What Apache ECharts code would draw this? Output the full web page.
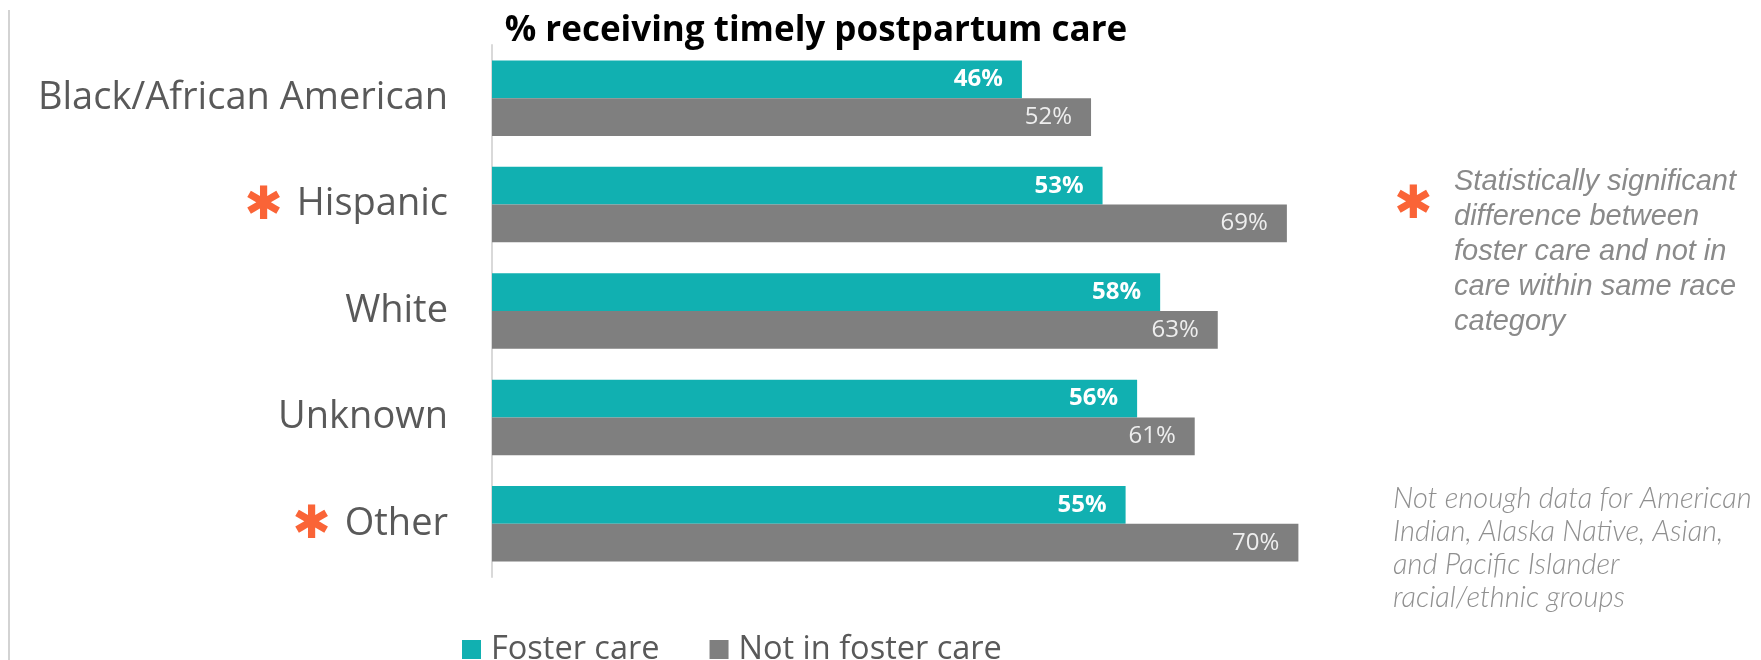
<!DOCTYPE html>
<html>
<head>
<meta charset="utf-8">
<title>% receiving timely postpartum care</title>
<script src="https://cdn.jsdelivr.net/npm/echarts@6/dist/echarts.min.js"></script>
<style>
  html, body { margin: 0; padding: 0; background: #ffffff; }
  #chart { width: 1761px; height: 660px; }
</style>
</head>
<body>
<div id="chart"></div>
<script>
// Race / ethnicity groups, top to bottom
const categories = ['Black/African American', 'Hispanic', 'White', 'Unknown', 'Other'];
// Groups with a statistically significant foster / not-in-care difference
const significantGroups = ['Hispanic', 'Other'];
// Percent receiving timely postpartum care
const fosterCare = [46, 53, 58, 56, 55];
const notInFosterCare = [52, 69, 63, 61, 70];
const seriesNames = ['Foster care', 'Not in foster care'];

const TEAL = '#11b0b1';
const GRAY = '#7f7f7f';
const ORANGE = '#fa6437';
const LABEL_FONT = '"Open Sans", "Noto Sans", sans-serif';

const chart = echarts.init(document.getElementById('chart'), null, { renderer: 'canvas' });

chart.setOption({
  backgroundColor: '#ffffff',
  animation: false,
  title: {
    text: '% receiving timely postpartum care',
    left: 811,
    textAlign: 'center',
    top: 9,
    textStyle: {
      fontFamily: LABEL_FONT,
      fontWeight: 'bold',
      fontSize: 35,
      color: '#000000'
    }
  },
  legend: {
    data: seriesNames,
    left: 457,
    top: 628,
    icon: 'rect',
    itemWidth: 19,
    itemHeight: 19,
    itemGap: 50,
    textStyle: {
      fontFamily: LABEL_FONT,
      fontSize: 32.5,
      color: '#595959',
      padding: [0, 0, 0, 5]
    }
  },
  grid: {
    left: 492,
    top: 45,
    width: 1152,
    height: 532
  },
  xAxis: {
    type: 'value',
    min: 0,
    max: 100,
    show: false
  },
  yAxis: {
    type: 'category',
    data: categories,
    inverse: true,
    axisLine: { show: true, lineStyle: { color: '#d9d9d9', width: 2 } },
    axisTick: { show: false },
    axisLabel: {
      margin: 44,
      fontFamily: LABEL_FONT,
      fontSize: 38,
      color: '#595959',
      formatter: function (value) {
        return significantGroups.indexOf(value) >= 0
          ? '{star|✱}' + value
          : value;
      },
      rich: {
        star: {
          fontFamily: '"DejaVu Sans", sans-serif',
          fontWeight: 'bold',
          fontSize: 46,
          color: ORANGE,
          padding: [4, 14, 0, 0]
        }
      }
    }
  },
  series: [
    {
      name: seriesNames[0],
      type: 'bar',
      data: fosterCare,
      barCategoryGap: '29%',
      barGap: '0%',
      itemStyle: { color: TEAL },
      label: {
        show: true,
        position: 'insideRight',
        distance: 19,
        formatter: '{c}%',
        fontFamily: LABEL_FONT,
        fontWeight: 'bold',
        fontSize: 24,
        color: '#ffffff'
      }
    },
    {
      name: seriesNames[1],
      type: 'bar',
      data: notInFosterCare,
      barCategoryGap: '29%',
      barGap: '0%',
      itemStyle: { color: GRAY },
      label: {
        show: true,
        position: 'insideRight',
        distance: 19,
        formatter: '{c}%',
        fontFamily: LABEL_FONT,
        fontSize: 24,
        color: '#eeeeee'
      }
    }
  ],
  graphic: [
    // thin frame line along the left edge
    {
      type: 'line',
      shape: { x1: 9, y1: 10, x2: 9, y2: 660 },
      style: { stroke: '#c4c4c4', lineWidth: 1.5 }
    },
    // significance note
    {
      type: 'text',
      left: 1394,
      top: 183,
      style: {
        text: '✱',
        fontFamily: '"DejaVu Sans", sans-serif',
        fontWeight: 'bold',
        fontSize: 46,
        fill: ORANGE
      }
    },
    {
      type: 'text',
      left: 1454,
      top: 164,
      style: {
        text: 'Statistically significant\ndifference between\nfoster care and not in\ncare within same race\ncategory',
        fontFamily: '"Liberation Sans", Arial, sans-serif',
        fontStyle: 'italic',
        fontSize: 29,
        lineHeight: 35,
        fill: '#8a8a8a'
      }
    },
    // data availability note
    {
      type: 'text',
      left: 1393,
      top: 482,
      style: {
        text: 'Not enough data for American\nIndian, Alaska Native, Asian,\nand Pacific Islander\nracial/ethnic groups',
        fontFamily: 'Lato, sans-serif',
        fontStyle: 'italic',
        fontWeight: 300,
        fontSize: 29,
        lineHeight: 33,
        fill: '#8f8f8f'
      }
    }
  ]
});
</script>
</body>
</html>
